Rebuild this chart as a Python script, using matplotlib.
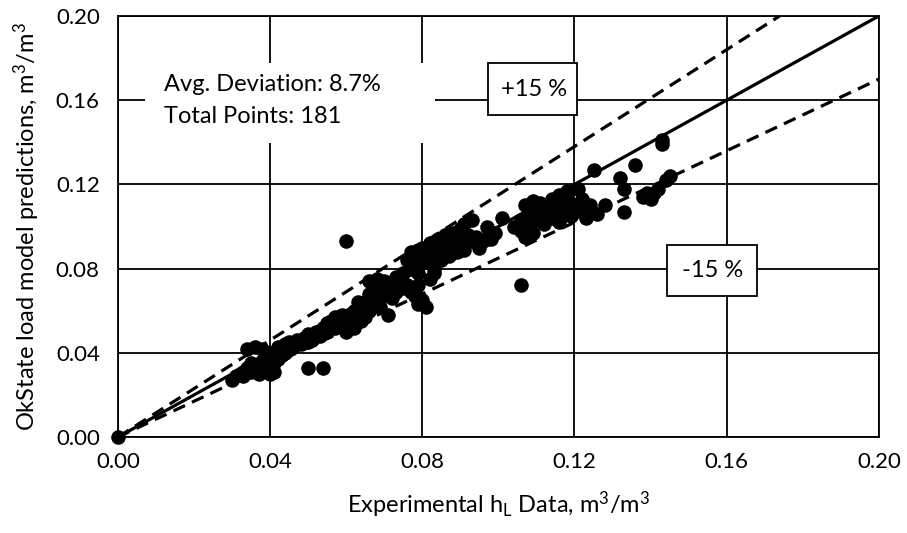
import matplotlib
matplotlib.use('Agg')
import matplotlib.pyplot as plt
from matplotlib.patches import Rectangle

exp_hl = [
    0.000,
    # 0.030 - 0.045
    0.030, 0.031, 0.032, 0.033, 0.033, 0.034, 0.034, 0.035, 0.035, 0.036,
    0.036, 0.037, 0.037, 0.038, 0.038, 0.039, 0.039, 0.040, 0.040, 0.041,
    0.041, 0.042, 0.042, 0.043, 0.044, 0.044, 0.045, 0.045,
    # 0.045 - 0.060
    0.047, 0.048, 0.049, 0.050, 0.051, 0.052, 0.053, 0.054, 0.055, 0.055,
    0.056, 0.057, 0.058, 0.059, 0.059, 0.060, 0.060, 0.046, 0.050, 0.057,
    # 0.060 - 0.075
    0.061, 0.062, 0.062, 0.063, 0.063, 0.064, 0.064, 0.065, 0.065, 0.066,
    0.066, 0.066, 0.067, 0.067, 0.068, 0.068, 0.068, 0.069, 0.069, 0.070,
    0.070, 0.071, 0.071, 0.072, 0.072, 0.073, 0.073, 0.074, 0.075, 0.075,
    # 0.075 - 0.097
    0.076, 0.077, 0.077, 0.078, 0.078, 0.079, 0.079, 0.080, 0.080, 0.081,
    0.081, 0.082, 0.082, 0.083, 0.083, 0.084, 0.084, 0.085, 0.085, 0.086,
    0.086, 0.087, 0.087, 0.088, 0.088, 0.089, 0.089, 0.090, 0.090, 0.091,
    0.091, 0.092, 0.093, 0.093, 0.094, 0.095, 0.096, 0.097,
    0.078, 0.079, 0.081, 0.080, 0.079, 0.082, 0.083, 0.076, 0.077,
    # 0.097 - 0.124
    0.101, 0.104, 0.106, 0.106, 0.107, 0.107, 0.108, 0.108, 0.109, 0.109,
    0.110, 0.110, 0.111, 0.112, 0.112, 0.113, 0.114, 0.114, 0.115, 0.116,
    0.116, 0.117, 0.118, 0.118, 0.119, 0.120, 0.121, 0.122, 0.122, 0.123,
    0.124, 0.098, 0.099, 0.097,
    # 0.125 - 0.145
    0.125, 0.126, 0.128, 0.132, 0.133, 0.133, 0.136, 0.138, 0.139, 0.141,
    0.142, 0.140, 0.143, 0.143, 0.145, 0.144,
    # outliers
    0.060, 0.106, 0.050, 0.054,
]
model_hl = [
    0.000,
    0.027, 0.029, 0.030, 0.031, 0.029, 0.042, 0.033, 0.031, 0.035, 0.043,
    0.032, 0.034, 0.030, 0.036, 0.042, 0.033, 0.038, 0.030, 0.040, 0.035,
    0.031, 0.043, 0.037, 0.039, 0.044, 0.040, 0.042, 0.045,
    0.046, 0.044, 0.047, 0.049, 0.046, 0.050, 0.048, 0.052, 0.050, 0.054,
    0.055, 0.052, 0.056, 0.054, 0.058, 0.050, 0.056, 0.043, 0.045, 0.057,
    0.054, 0.060, 0.052, 0.058, 0.064, 0.062, 0.055, 0.064, 0.057, 0.068,
    0.060, 0.074, 0.065, 0.072, 0.063, 0.070, 0.075, 0.066, 0.062, 0.074,
    0.068, 0.058, 0.072, 0.066, 0.070, 0.076, 0.069, 0.073, 0.078, 0.071,
    0.084, 0.088, 0.080, 0.086, 0.082, 0.089, 0.078, 0.085, 0.090, 0.083,
    0.088, 0.092, 0.086, 0.080, 0.090, 0.094, 0.087, 0.084, 0.092, 0.096,
    0.089, 0.086, 0.094, 0.097, 0.091, 0.088, 0.095, 0.099, 0.092, 0.101,
    0.089, 0.096, 0.103, 0.093, 0.095, 0.090, 0.093, 0.094,
    0.067, 0.063, 0.062, 0.065, 0.072, 0.075, 0.078, 0.072, 0.069,
    0.104, 0.100, 0.098, 0.103, 0.110, 0.095, 0.105, 0.100, 0.112, 0.097,
    0.108, 0.103, 0.111, 0.106, 0.101, 0.109, 0.113, 0.104, 0.110, 0.115,
    0.102, 0.108, 0.112, 0.117, 0.105, 0.110, 0.118, 0.113, 0.107, 0.104,
    0.110, 0.094, 0.097, 0.100,
    0.127, 0.106, 0.110, 0.123, 0.118, 0.107, 0.129, 0.114, 0.116, 0.116,
    0.118, 0.113, 0.141, 0.139, 0.124, 0.122,
    0.093, 0.072, 0.033, 0.033,
]

ticks = [0.00, 0.04, 0.08, 0.12, 0.16, 0.20]
tick_labels = ['0.00', '0.04', '0.08', '0.12', '0.16', '0.20']

plt.rcParams['font.family'] = ['Lato', 'DejaVu Sans']
plt.rcParams['mathtext.default'] = 'regular'

fig = plt.figure(figsize=(9.07, 5.33), dpi=100)
ax = fig.add_axes([0.130, 0.180, 0.839, 0.790])

ax.set_xlim(0, 0.2)
ax.set_ylim(0, 0.2)
ax.set_xticks(ticks)
ax.set_yticks(ticks)
ax.set_xticklabels(tick_labels)
ax.set_yticklabels(tick_labels)
ax.tick_params(length=0, labelsize=16, colors='black')
ax.tick_params(axis='y', pad=13)
ax.tick_params(axis='x', pad=11)
ax.grid(True, color='black', linewidth=1.3, zorder=0)
ax.set_axisbelow(True)
for sp in ax.spines.values():
    sp.set_linewidth(1.3)

# parity line and +/- 15 % bands
ax.plot([0, 0.2], [0, 0.2], color='black', linewidth=2.3, zorder=2)
ax.plot([0, 0.2 / 1.15], [0, 0.2], color='black', linewidth=2.3,
        linestyle=(0, (4, 2.4)), zorder=2)
ax.plot([0, 0.2], [0, 0.2 * 0.85], color='black', linewidth=2.3,
        linestyle=(0, (4, 2.4)), zorder=2)

ax.scatter(exp_hl, model_hl, s=110, color='black', linewidths=0, zorder=3,
           clip_on=False)

# text boxes
ax.add_patch(Rectangle((0.036, 0.698), 0.381, 0.190, transform=ax.transAxes,
                       facecolor='white', edgecolor='none', zorder=1))
ax.text(0.060, 0.838, 'Avg. Deviation: 8.7%', transform=ax.transAxes,
        fontsize=17, va='center', ha='left', zorder=4)
ax.text(0.060, 0.762, 'Total Points: 181', transform=ax.transAxes,
        fontsize=17, va='center', ha='left', zorder=4)

ax.add_patch(Rectangle((0.486, 0.765), 0.117, 0.123, transform=ax.transAxes,
                       facecolor='white', edgecolor='black', linewidth=1.3, zorder=4))
ax.text(0.547, 0.826, '+15 %', transform=ax.transAxes, fontsize=17,
        va='center', ha='center', zorder=5)
ax.add_patch(Rectangle((0.721, 0.335), 0.119, 0.121, transform=ax.transAxes,
                       facecolor='white', edgecolor='black', linewidth=1.3, zorder=4))
ax.text(0.781, 0.395, '-15 %', transform=ax.transAxes, fontsize=17,
        va='center', ha='center', zorder=5)

ax.set_xlabel('Experimental h$_L$ Data, m$^3$/m$^3$', fontsize=17, labelpad=12)
ax.set_ylabel('OkState load model predictions, m$^3$/m$^3$', fontsize=17, labelpad=10)

fig.savefig('out.png', dpi=100)
